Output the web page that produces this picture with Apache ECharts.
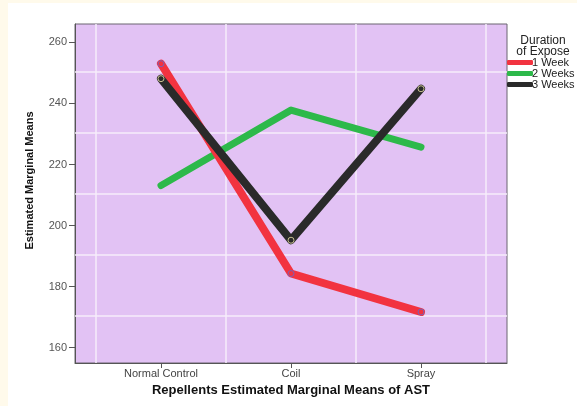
<!DOCTYPE html>
<html>
<head>
<meta charset="utf-8">
<script src="https://cdn.jsdelivr.net/npm/echarts@6/dist/echarts.min.js"></script>
<style>
    html, body { margin: 0; padding: 0; background: #fffaeb; }
    #chart { width: 577px; height: 406px; }
</style>
</head>
<body>
<div id="chart"></div>
<script>
// Chart data
// ------------------------------

var categories = ['Normal Control', 'Coil', 'Spray'];
var week1 = [253.0, 184.3, 171.7];
var week2 = [213.1, 237.8, 225.7];
var week3 = [248.1, 195.2, 244.8];
var yTicks = [160, 180, 200, 220, 240, 260];
var xGridLines = [-0.5, 0.5, 1.5, 2.5];
var yGridLines = [170.5, 190.5, 210.5, 230.5, 250.5];

// Turn a value array into [categoryIndex, value] pairs
var toPoints = function(values) {
    return values.map(function(v, i) { return [i, v]; });
};

var chartElement = document.getElementById('chart');
var chart = echarts.init(chartElement);

var labelFont = 'Arial, "Liberation Sans", sans-serif';

chart.setOption({
    backgroundColor: '#fffaeb',
    animation: false,

    // White panel behind the plot
    graphic: [{
        type: 'rect',
        left: 8,
        top: 3,
        z: -10,
        shape: { width: 569, height: 403 },
        style: { fill: '#ffffff' }
    }],

    // Legend heading
    title: {
        text: 'Duration\nof Expose',
        left: 538,
        top: 30,
        textAlign: 'center',
        textStyle: {
            fontFamily: labelFont,
            fontSize: 12,
            fontWeight: 'normal',
            color: '#222',
            lineHeight: 11
        }
    },

    legend: {
        orient: 'vertical',
        left: 507,
        top: 57,
        padding: 0,
        itemWidth: 26,
        itemHeight: 5,
        itemGap: 0,
        icon: 'roundRect',
        itemStyle: { borderWidth: 0 },
        textStyle: {
            fontFamily: labelFont,
            fontSize: 11,
            lineHeight: 10,
            color: '#222',
            padding: [0, 0, 0, -6]
        },
        data: ['1 Week', '2 Weeks', '3 Weeks']
    },

    grid: {
        left: 75,
        right: 70,
        top: 24,
        bottom: 43,
        show: true,
        backgroundColor: '#e2c2f4',
        borderColor: '#6b6470',
        borderWidth: 1
    },

    xAxis: {
        type: 'value',
        min: -0.6615,
        max: 2.6615,
        name: 'Repellents Estimated Marginal Means of AST',
        nameLocation: 'middle',
        nameGap: 21,
        nameTextStyle: {
            fontFamily: labelFont,
            fontSize: 13,
            fontWeight: 'bold',
            color: '#111'
        },
        axisLine: { onZero: false, lineStyle: { color: '#555' } },
        axisTick: {
            customValues: [0, 1, 2],
            length: 5,
            lineStyle: { color: '#555' }
        },
        axisLabel: {
            customValues: [0, 1, 2],
            margin: 5,
            fontFamily: labelFont,
            fontSize: 11,
            color: '#444',
            formatter: function(v) { return categories[Math.round(v)]; }
        },
        splitLine: { show: false }
    },

    yAxis: {
        type: 'value',
        min: 155,
        max: 266,
        name: 'Estimated Marginal Means',
        nameLocation: 'middle',
        nameRotate: 90,
        nameGap: 40,
        nameTextStyle: {
            fontFamily: '"Liberation Sans Narrow", "Arial Narrow", Arial, sans-serif',
            fontSize: 11,
            fontWeight: 'bold',
            color: '#111',
            padding: [0, 0, 0, 26]
        },
        axisLine: { show: true, onZero: false, lineStyle: { color: '#555' } },
        axisTick: {
            show: true,
            customValues: yTicks,
            length: 6,
            lineStyle: { color: '#555' }
        },
        axisLabel: {
            customValues: yTicks,
            margin: 8,
            fontFamily: labelFont,
            fontSize: 11,
            color: '#555'
        },
        splitLine: { show: false }
    },

    series: [
        {
            // Grid lines only
            type: 'line',
            data: [],
            silent: true,
            z: 1,
            markLine: {
                silent: true,
                z: 1,
                symbol: 'none',
                label: { show: false },
                lineStyle: { color: '#f6ecfb', width: 1.5, type: 'solid' },
                data: xGridLines.map(function(x) { return { xAxis: x }; })
                    .concat(yGridLines.map(function(y) { return { yAxis: y }; }))
            }
        },
        {
            name: '2 Weeks',
            type: 'line',
            data: toPoints(week2),
            z: 3,
            showSymbol: false,
            color: '#2db94a',
            lineStyle: { width: 7, cap: 'round', join: 'round' }
        },
        {
            name: '1 Week',
            type: 'line',
            data: toPoints(week1),
            z: 4,
            symbol: 'circle',
            symbolSize: 6,
            color: '#f23340',
            itemStyle: { color: '#f23340', borderColor: '#7a5fb8', borderWidth: 1 },
            lineStyle: { width: 8, cap: 'round', join: 'round' }
        },
        {
            name: '3 Weeks',
            type: 'line',
            data: toPoints(week3),
            z: 5,
            symbol: 'circle',
            symbolSize: 6,
            color: '#333333',
            itemStyle: { color: '#2a2a2a', borderColor: '#c8c090', borderWidth: 1 },
            lineStyle: { width: 8, cap: 'round', join: 'round' }
        }
    ]
});
</script>
</body>
</html>
